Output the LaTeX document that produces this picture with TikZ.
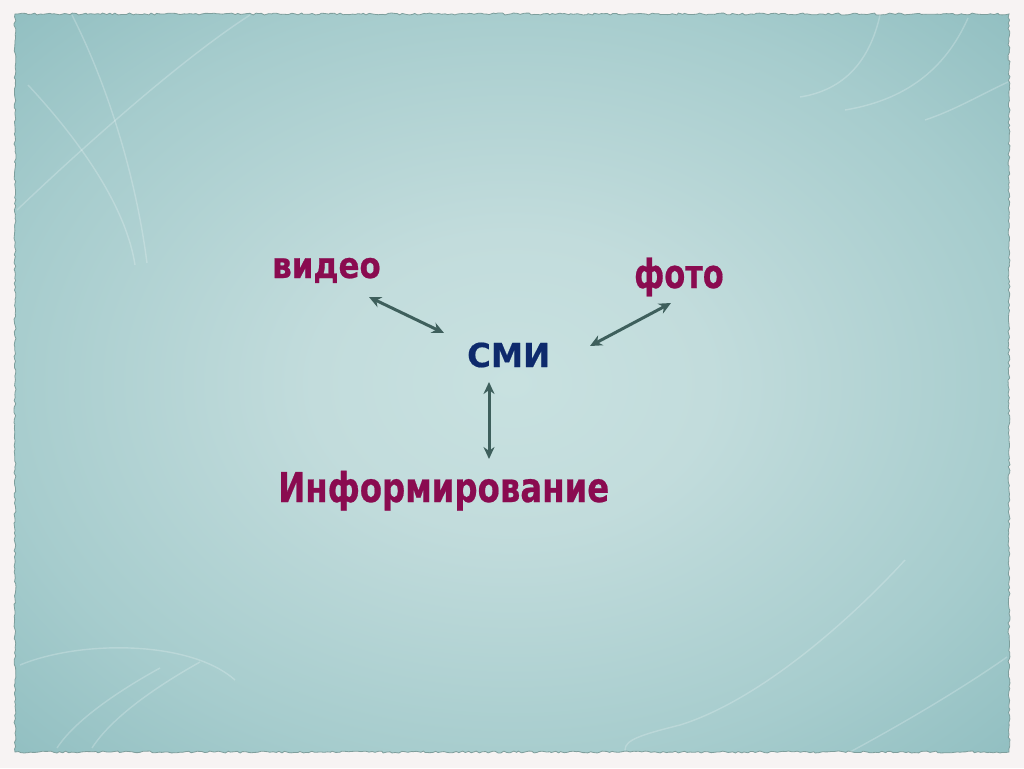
\documentclass[tikz,border=0pt]{standalone}
\usepackage{fontspec}
\setmainfont{DejaVu Sans}
\newfontfamily\heavy{DejaVu Sans}[UprightFont={* Bold}, FakeBold=0.6]
\usetikzlibrary{arrows.meta,decorations.pathmorphing}
\definecolor{outerbg}{HTML}{F7F3F3}
\definecolor{slidec}{HTML}{C8E1E0}
\definecolor{slideb}{HTML}{C2DCDC}
\definecolor{slidem}{HTML}{A6CCCD}
\definecolor{slidee}{HTML}{88B9BC}
\definecolor{slidek}{HTML}{77AAAF}
\definecolor{edgec}{HTML}{7E9E9C}
\definecolor{wine}{HTML}{8A0B50}
\definecolor{navyc}{HTML}{0E2A6C}
\definecolor{arrowc}{HTML}{3E5F5C}
\pgfdeclareradialshading{slideshade}{\pgfpoint{0bp}{0bp}}{color(0bp)=(slidec); color(10bp)=(slideb); color(26bp)=(slidem); color(40bp)=(slidee); color(50bp)=(slidek)}
\tikzset{
  lbl/.style={inner sep=0pt, font=\heavy},
  arr/.style={{Stealth[length=12pt,width=11pt]}-{Stealth[length=12pt,width=11pt]}, line width=3pt, draw=arrowc},
  deco/.style={draw=white, opacity=0.22, line width=1.4pt},
}
\begin{document}
\begin{tikzpicture}[x=1pt,y=-1pt]
\useasboundingbox[fill=outerbg] (0,0) rectangle (1024,768);
% slide
\path[shading=slideshade, draw=edgec, line width=0.8pt, decorate, decoration={random steps, segment length=3pt, amplitude=1pt}] (15,14) rectangle (1009,752);
% decorative curves
\draw[deco] (72,15) .. controls (105,80) and (135,170) .. (147,263);
\draw[deco] (28,85) .. controls (70,130) and (125,200) .. (135,265);
\draw[deco] (17,210) .. controls (80,150) and (180,60) .. (250,15);
\draw[deco] (880,15) .. controls (870,60) and (845,90) .. (800,97);
\draw[deco] (968,18) .. controls (945,70) and (905,100) .. (845,110);
\draw[deco] (1008,82) .. controls (980,95) and (955,110) .. (925,120);
\draw[deco] (20,665) .. controls (80,640) and (190,640) .. (235,680);
\draw[deco] (160,668) .. controls (120,690) and (75,720) .. (57,748);
\draw[deco] (200,662) .. controls (150,690) and (110,720) .. (92,748);
\draw[deco] (905,560) .. controls (850,620) and (760,700) .. (680,725) .. controls (640,735) and (625,740) .. (625,750);
\draw[deco] (1007,657) .. controls (960,690) and (900,725) .. (850,752);
% labels
\node[lbl, text=wine, anchor=base west] (video) at (272,278) {\fontsize{36}{40}\selectfont\scalebox{0.86}[1]{видео}};
\node[lbl, text=wine, anchor=base west] (foto) at (634,288) {\fontsize{40}{44}\selectfont\scalebox{0.76}[1]{фото}};
\node[lbl, text=navyc, anchor=base west] (smi) at (467,367) {\fontsize{33}{38}\selectfont\scalebox{0.98}[1]{СМИ}};
\node[lbl, text=wine, anchor=base west] (inf) at (278,502) {\fontsize{41}{46}\selectfont\scalebox{0.79}[1]{Информирование}};
% arrow ends
\coordinate (v1) at (369,297);
\coordinate (v2) at (444,333);
\coordinate (f1) at (671,303);
\coordinate (f2) at (590,346);
\coordinate (s1) at (489,382);
\coordinate (s2) at (489,459);
\draw[arr] (v1) -- (v2);
\draw[arr] (f1) -- (f2);
\draw[arr] (s1) -- (s2);
\end{tikzpicture}
\end{document}
